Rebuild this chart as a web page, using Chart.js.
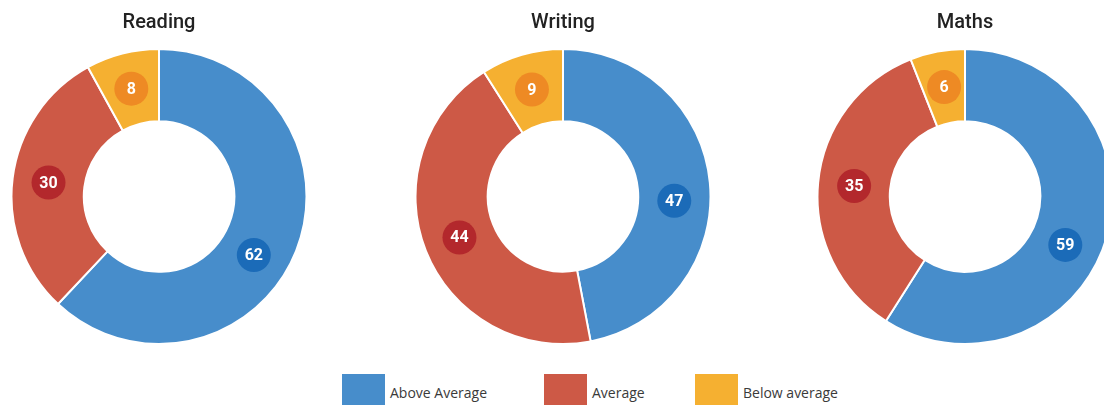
<!DOCTYPE html>
<html>
<head>
<meta charset="utf-8">
<script src="https://cdn.jsdelivr.net/npm/chart.js@4/dist/chart.umd.min.js"></script>
<style>
  html, body { margin: 0; padding: 0; background: #fff; }
  body { width: 1104px; height: 405px; overflow: hidden; position: relative; }
  .pie { position: absolute; top: 0; width: 298px; height: 345px; }
  .legend { position: absolute; top: 374px; left: 0; width: 1104px; height: 40px; }
  .legend .item { position: absolute; top: 0; display: flex; align-items: flex-start; font-family: "Open Sans", sans-serif; font-size: 14px; color: #3a3a3a; }
  .legend .box { width: 43px; height: 32px; margin-right: 5px; }
  .legend .txt { padding-top: 9px; }
</style>
</head>
<body>
<div class="pie" style="left:10px"><canvas id="c0"></canvas></div>
<div class="pie" style="left:414px"><canvas id="c1"></canvas></div>
<div class="pie" style="left:816px"><canvas id="c2"></canvas></div>
<div class="legend" id="legend"></div>
<script>
// data
const subjects = ["Reading", "Writing", "Maths"];
const categories = ["Above Average", "Average", "Below average"];
const readingValues = [62, 30, 8];
const writingValues = [47, 44, 9];
const mathsValues = [59, 35, 6];

const sliceColors = ["#478dcb", "#cd5946", "#f5b031"];
const badgeColors = ["#1b6bb8", "#b3282c", "#ee8a24"];
// where along each slice the badge sits (0.5 = middle)
const badgeAlong = [0.545, 0.5, 0.5];
const legendLeft = [342, 544, 695];

// draws the little round value badges on each slice
const badgePlugin = {
  id: "badges",
  afterDatasetsDraw(chart) {
    const ctx = chart.ctx;
    const meta = chart.getDatasetMeta(0);
    const values = chart.data.datasets[0].data;
    meta.data.forEach((arc, i) => {
      const a = arc.getProps(["x", "y", "startAngle", "endAngle", "innerRadius", "outerRadius"], true);
      const ang = a.startAngle + (a.endAngle - a.startAngle) * badgeAlong[i];
      const r = (a.innerRadius + a.outerRadius) / 2;
      const px = a.x + Math.cos(ang) * r;
      const py = a.y + Math.sin(ang) * r;
      ctx.save();
      ctx.beginPath();
      ctx.arc(px, py, 17, 0, Math.PI * 2);
      ctx.fillStyle = badgeColors[i];
      ctx.fill();
      ctx.fillStyle = "#fff";
      ctx.font = "bold 16px Roboto, sans-serif";
      ctx.textAlign = "center";
      ctx.textBaseline = "middle";
      ctx.fillText(values[i], px, py + 1);
      ctx.restore();
    });
  }
};

function makePie(id, title, values) {
  new Chart(document.getElementById(id), {
    type: "doughnut",
    data: {
      labels: categories,
      datasets: [{
        data: values,
        backgroundColor: sliceColors,
        borderColor: "#fff",
        borderWidth: 2
      }]
    },
    options: {
      responsive: true,
      maintainAspectRatio: false,
      animation: false,
      cutout: "51%",
      layout: { padding: 0 },
      plugins: {
        legend: { display: false },
        tooltip: { enabled: false },
        title: {
          display: true,
          text: title,
          color: "#222",
          font: { family: "Roboto, sans-serif", size: 20, weight: "500" },
          padding: { top: 11, bottom: 13 }
        }
      }
    },
    plugins: [badgePlugin]
  });
}

makePie("c0", subjects[0], readingValues);
makePie("c1", subjects[1], writingValues);
makePie("c2", subjects[2], mathsValues);

// legend
const legendEl = document.getElementById("legend");
categories.forEach((name, i) => {
  const item = document.createElement("div");
  item.className = "item";
  item.style.left = legendLeft[i] + "px";
  item.innerHTML = `<div class="box" style="background:${sliceColors[i]}"></div><div class="txt">${name}</div>`;
  legendEl.appendChild(item);
});
</script>
</body>
</html>
